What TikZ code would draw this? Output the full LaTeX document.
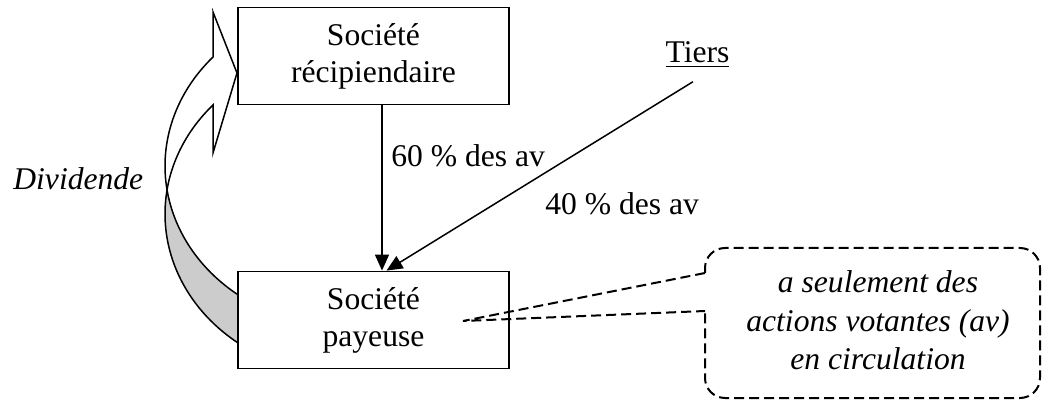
\documentclass[tikz,border=0pt]{standalone}
\usepackage{fontspec}
\setmainfont{Liberation Serif}
\usepackage{tikz}
\usetikzlibrary{
  arrows.meta,
  positioning
}

\tikzset{
  texte/.style={inner sep=2pt, font=\fontsize{15.8}{18.5}\selectfont},
  societe/.style={draw, line width=0.9pt, minimum width=135.5pt, minimum height=48.5pt,
                  align=center, inner sep=0pt, font=\fontsize{15.8}{18.5}\selectfont},
  fleche/.style={-{Triangle[length=8pt,width=7pt]}, line width=0.75pt},
  bande/.style={line width=0.75pt},
  pointille/.style={dash pattern=on 5pt off 2.5pt, line width=1pt}
}

\begin{document}
\begin{tikzpicture}[x=0.5pt, y=0.5pt]
\useasboundingbox (0,0) rectangle (1045,402);

% les deux societes
\node[societe] (recip) at (373.5,346) {Société\\récipiendaire};
\node[societe] (payeuse) at (373.5,82) {Société\\payeuse};

% dividende : fleche courbe
\filldraw[bande, fill=gray!40] (347,188) ++(233.2:182 and 161)
  arc[start angle=233.2, end angle=171.4, x radius=182, y radius=161]
  arc[start angle=188.6, end angle=233.2, x radius=182, y radius=161] -- cycle;
\filldraw[bande, fill=white] (347,236) ++(188.6:182 and 161)
  arc[start angle=188.6, end angle=137.4, x radius=182, y radius=161]
  -- (213,390) -- (237,329) -- (213,249) -- (213,297)
  arc[start angle=137.4, end angle=171.4, x radius=182, y radius=161] -- cycle;
\node[texte, anchor=base west, font=\fontsize{15.8}{18.5}\selectfont\itshape] (dividende) at (9,212) {Dividende};

% participations
\node[texte, anchor=base] (tiers) at (697.5,339) {\underline{Tiers}};
\draw[fleche] ([xshift=4.25pt]recip.south) -- ([xshift=4.25pt]payeuse.north);
\draw[fleche] ([xshift=-2.25pt,yshift=-5pt]tiers.south) -- ([xshift=6.5pt]payeuse.north);
\node[texte, anchor=base west] (soixante) at (387,235) {60 \% des av};
\node[texte, anchor=base west] (quarante) at (541,187) {40 \% des av};

% bulle
\node[texte, align=center, font=\fontsize{15.8}{19.25}\selectfont\itshape] (bulle) at (878,81.5)
  {a seulement des\\actions votantes (av)\\en circulation};
\coordinate (pointe) at (463,81);
\draw[pointille, rounded corners=10pt] (705,129) -- (705,154) -- (1040,154) -- (1040,4) -- (705,4) -- (705,91);
\draw[pointille] (705,129) -- (pointe) -- (705,91);
\end{tikzpicture}
\end{document}
